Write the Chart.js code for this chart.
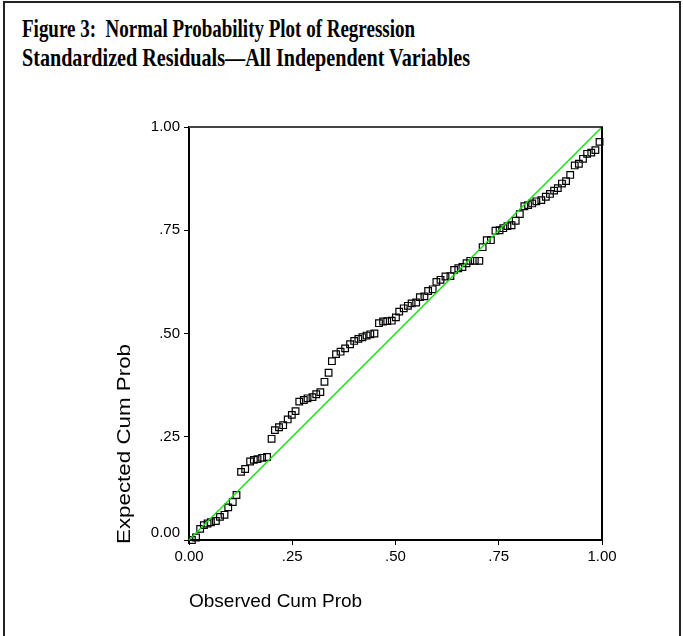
<!DOCTYPE html>
<html><head><meta charset="utf-8">
<script src="https://cdn.jsdelivr.net/npm/chart.js@4"></script>
<style>
html,body{margin:0;padding:0;background:#fff;}
#page{position:relative;width:683px;height:636px;overflow:hidden;background:#fff;}
#frame{position:absolute;left:3px;top:1px;width:678px;height:700px;border:2px solid #222;box-sizing:border-box;}
#title{position:absolute;left:22px;top:14px;font-family:"Liberation Serif";font-weight:bold;font-size:25px;line-height:29px;color:#000;}
#title span{display:inline-block;white-space:nowrap;transform-origin:0 0;}
#ytitle{position:absolute;font-family:"Liberation Sans",Arial;font-size:19px;line-height:22px;white-space:nowrap;color:#000;transform-origin:50% 50%;}
canvas{position:absolute;left:0;top:0;}
</style></head>
<body><div id="page"><div id="frame"></div>
<div id="title"><span id="t1">Figure 3:&nbsp; Normal Probability Plot of Regression</span><br><span id="t2">Standardized Residuals—All Independent Variables</span></div>
<canvas id="c" width="683" height="636"></canvas>
<div id="ytitle"></div></div>
<script>
const obsX = [.007,.017,.027,.036,.045,.053,.065,.075,.086,.095,
.106,.115,.126,.136,.148,.157,.166,.177,.189,.200,
.208,.218,.228,.239,.249,.258,.267,.278,.287,.299,
.308,.318,.328,.338,.346,.356,.367,.378,.390,.400,
.410,.420,.430,.439,.449,.460,.470,.480,.491,.501,
.509,.520,.530,.539,.550,.559,.570,.579,.590,.599,
.609,.621,.633,.642,.652,.662,.672,.681,.692,.703,
.711,.721,.731,.742,.752,.761,.771,.781,.791,.801,
.812,.821,.831,.841,.853,.864,.874,.884,.893,.903,
.913,.923,.934,.944,.954,.964,.974,.984,.994];
const expY = [.000,.006,.027,.036,.040,.043,.046,.056,.061,.079,
.092,.109,.165,.172,.190,.194,.196,.199,.201,.245,
.266,.273,.278,.292,.303,.312,.335,.339,.343,.346,
.353,.358,.383,.405,.433,.450,.456,.464,.474,.482,
.487,.491,.495,.498,.500,.525,.529,.530,.531,.539,
.553,.561,.567,.573,.575,.588,.590,.603,.607,.625,
.630,.638,.639,.654,.658,.661,.670,.676,.676,.676,
.709,.726,.726,.749,.750,.755,.760,.762,.773,.789,
.808,.811,.815,.820,.823,.831,.838,.846,.852,.863,
.869,.884,.907,.911,.923,.935,.938,.944,.964];
const refX = [0, 1];
const refY = [0, 1];
const tickValues = [0, 0.25, 0.5, 0.75, 1];
const xTickLabels = ['0.00', '.25', '.50', '.75', '1.00'];
const yTickLabels = ['0.00', '.25', '.50', '.75', '1.00'];
const xTitle = 'Observed Cum Prob';
const yTitle = 'Expected Cum Prob';

// fit title lines to widths
function fitLine(id, w){const el=document.getElementById(id);const r=el.getBoundingClientRect().width;el.style.transform='scaleX('+(w/r)+')';}
fitLine('t1', 393); fitLine('t2', 448);

// rotated y-axis title, stretched along its length like the original
(function(){const el=document.getElementById('ytitle');el.textContent=yTitle;
  const w=el.getBoundingClientRect().width, h=22, target=200, cx=124, cy=444;
  el.style.left=(cx-w/2)+'px'; el.style.top=(cy-h/2)+'px';
  el.style.transform='rotate(-90deg) scaleX('+(target/w)+')';})();

const boxPlugin = {id:'box', afterDatasetsDraw(chart){const {ctx, chartArea:a}=chart; ctx.save(); ctx.lineWidth=2; ctx.strokeStyle='#444'; ctx.beginPath(); ctx.moveTo(a.left,a.top); ctx.lineTo(a.right+1,a.top); ctx.stroke(); ctx.strokeStyle='#000'; ctx.beginPath(); ctx.moveTo(a.right,a.top); ctx.lineTo(a.right,a.bottom); ctx.stroke(); ctx.restore();}};

const tickFont = {family:'"Liberation Sans", Arial', size:15, lineHeight:1.0};
const titleFont = {family:'"Liberation Sans", Arial', size:19};

new Chart(document.getElementById('c'), {
  type:'scatter',
  data:{datasets:[
    {type:'line', data: refX.map((x,i)=>({x, y: refY[i]})), borderColor:'#10e010', borderWidth:1.5, pointRadius:0, order:0, clip:false},
    {type:'scatter', data: obsX.map((x,i)=>({x, y: expY[i]})), pointStyle:'rect', pointRadius:4.7, borderColor:'#000', borderWidth:1.2, backgroundColor:'rgba(255,255,255,0)', order:1, clip:false}
  ]},
  options:{
    responsive:false, animation:false,
    layout:{padding:{left:0, top:127, right:81, bottom:0}},
    plugins:{legend:{display:false}, tooltip:{enabled:false}},
    scales:{
      x:{type:'linear', min:0, max:1,
        afterBuildTicks(s){s.ticks = tickValues.map(v=>({value:v}));},
        afterFit(s){s.height = 96;},
        ticks:{callback:(v)=>xTickLabels[tickValues.indexOf(v)], font:{family:'"Liberation Sans", Arial', size:15}, color:'#000', padding:3, maxRotation:0, autoSkip:false},
        grid:{display:true, drawOnChartArea:false, drawTicks:true, tickLength:5, color:'#000', lineWidth:1},
        border:{display:true, color:'#000', width:2},
        title:{display:true, text:xTitle, align:'start', font:titleFont, color:'#000', padding:{top:0, bottom:22.6}}
      },
      y:{type:'linear', min:0, max:1,
        afterBuildTicks(s){s.ticks = tickValues.map(v=>({value:v}));},
        afterFit(s){s.width = 189;},
        ticks:{callback:(v)=>{const t=yTickLabels[tickValues.indexOf(v)]; return v===0 ? [t,''] : t;}, font:tickFont, color:'#000', padding:4, autoSkip:false},
        grid:{display:true, drawOnChartArea:false, drawTicks:true, tickLength:5, color:'#000', lineWidth:1},
        border:{display:true, color:'#000', width:2},
        title:{display:false}
      }
    }
  },
  plugins:[boxPlugin]
});
</script>
</body></html>
